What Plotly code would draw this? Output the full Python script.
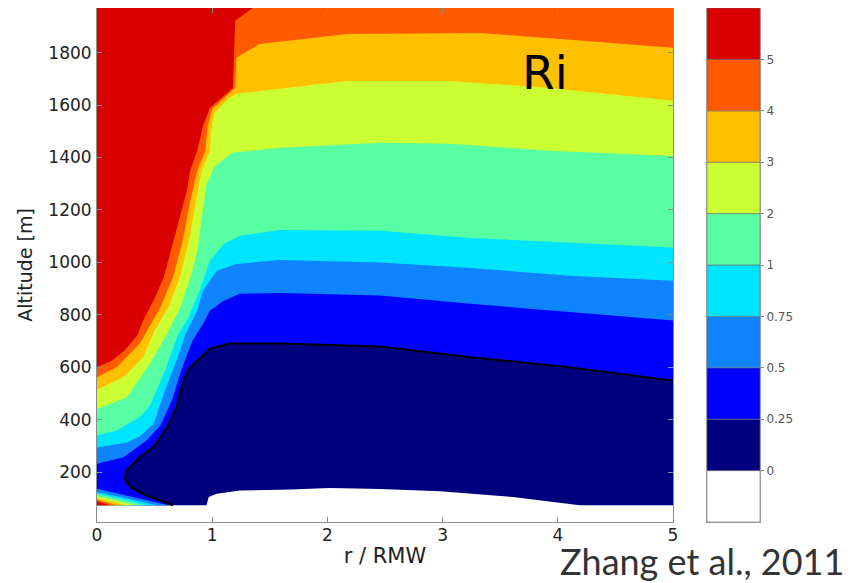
import plotly.graph_objects as go

# ---------------- data ----------------
R_MIN, R_MAX = 0.0, 5.0          # r / RMW
Z_BOT, Z_TOP = 74, 1970          # altitude extent of the model field [m]

levels = [0, 0.25, 0.5, 0.75, 1, 2, 3, 4, 5]
level_labels = ["0", "0.25", "0.5", "0.75", "1", "2", "3", "4", "5"]

# Ri < 0 pocket near the surface (r/RMW, altitude)
neg_r = [0.95, 0.97, 1.04, 1.24, 1.68, 2.02, 2.46, 2.98, 3.61, 4.19]
neg_z = [74, 105, 118, 130, 134, 140, 136, 127, 105, 74]

# Ri = 0.25 contour (bottom-left end of the curve last)
ri025_r = [5.0, 4.10, 3.24, 2.46, 1.59, 1.15, 0.98, 0.81, 0.75, 0.69, 0.61, 0.49,
           0.37, 0.26, 0.24, 0.29, 0.43, 0.66]
ri025_z = [549, 600, 638, 679, 691, 691, 670, 600, 549, 448, 371, 295,
           257, 207, 175, 143, 111, 74]

# upper contours, from r/RMW = 5 to r/RMW = 0
ri05_r = [5.0, 4.10, 3.24, 2.46, 1.59, 1.24, 1.10, 0.98, 0.92, 0.83, 0.73, 0.65, 0.55, 0.43, 0.23, 0.0]
ri05_z = [778, 810, 842, 874, 883, 880, 854, 816, 765, 702, 587, 473, 378, 321, 257, 232]

ri075_r = [5.0, 4.10, 3.24, 2.46, 1.59, 1.21, 1.04, 0.92, 0.87, 0.77, 0.69, 0.59, 0.49, 0.37, 0.26, 0.0]
ri075_z = [930, 949, 979, 1000, 1009, 994, 968, 892, 816, 728, 625, 511, 384, 336, 313, 294]

ri1_r = [5.0, 4.10, 3.24, 2.46, 1.59, 1.24, 1.10, 0.98, 0.89, 0.79, 0.70, 0.59, 0.46, 0.37, 0.17, 0.0]
ri1_z = [1057, 1076, 1093, 1121, 1123, 1102, 1070, 1006, 892, 786, 721, 587, 454, 409, 359, 340]

ri2_r = [5.0, 3.93, 3.06, 2.46, 1.59, 1.17, 1.02, 0.95, 0.91, 0.87, 0.81, 0.72, 0.61, 0.46, 0.26, 0.0]
ri2_z = [1406, 1426, 1452, 1456, 1437, 1418, 1365, 1296, 1168, 1041, 940, 826, 729, 614, 486, 441]

ri3_r = [5.0, 3.93, 3.06, 2.17, 1.21, 1.14, 1.02, 0.99, 0.98, 0.91, 0.87, 0.81, 0.72, 0.62,
         0.50, 0.40, 0.23, 0.0]
ri3_z = [1616, 1665, 1692, 1692, 1643, 1624, 1570, 1501, 1426, 1350, 1261, 1108, 943, 829,
         740, 639, 562, 514]

ri4_r = [5.0, 4.22, 3.32, 2.17, 1.41, 1.21, 1.20, 1.00, 0.96, 0.94, 0.87, 0.81, 0.75, 0.66,
         0.55, 0.46, 0.37, 0.27, 0.17, 0.0]
ri4_z = [1818, 1845, 1875, 1871, 1833, 1780, 1665, 1585, 1520, 1426, 1350, 1235, 1095, 943,
         828, 758, 690, 645, 600, 562]

# Ri = 5 contour, from the top edge down to r/RMW = 0
ri5_r = [1.35, 1.20, 1.19, 1.18, 0.98, 0.92, 0.87, 0.81, 0.78, 0.72, 0.66, 0.58, 0.49,
         0.40, 0.35, 0.24, 0.13, 0.0]
ri5_z = [1970, 1921, 1807, 1665, 1589, 1520, 1426, 1350, 1273, 1171, 1070, 943, 854,
         778, 721, 664, 626, 600]

# thin surface wedge at the centre: where each contour (0.5 ... 5) meets r=0 and the bottom
wedge_z0 = [137, 124, 118, 109, 101, 95, 89]
wedge_r1 = [0.62, 0.52, 0.43, 0.34, 0.26, 0.17, 0.11]

# ---------------- styles ----------------
band_colors = ["#FFFFFF", "#00007F", "#0000FF", "#1084FF", "#00E5FF",
               "#58FFA2", "#CCFF33", "#FFC000", "#FF5A00", "#D90000"]

fig = go.Figure()


def add_region(xs, ys, color):
    fig.add_trace(go.Scatter(x=xs, y=ys, mode="lines", fill="toself",
                             fillcolor=color, line=dict(width=0, color=color),
                             hoverinfo="skip", showlegend=False))


# Ri >= 0 (everything except the negative pocket)
xs = [R_MIN] + neg_r + [R_MAX, R_MAX, R_MIN]
ys = [Z_BOT] + neg_z + [Z_BOT, Z_TOP, Z_TOP]
add_region(xs, ys, band_colors[1])

# Ri >= 0.25
xs = [R_MIN] + ri025_r[::-1] + [R_MAX, R_MIN]
ys = [Z_BOT] + ri025_z[::-1] + [Z_TOP, Z_TOP]
add_region(xs, ys, band_colors[2])

upper = [(ri05_r, ri05_z), (ri075_r, ri075_z), (ri1_r, ri1_z),
         (ri2_r, ri2_z), (ri3_r, ri3_z), (ri4_r, ri4_z)]
for i, (cr, cz) in enumerate(upper):
    xs = list(cr) + [R_MIN, R_MAX, None, R_MIN, wedge_r1[i], R_MIN]
    ys = list(cz) + [Z_TOP, Z_TOP, None, wedge_z0[i], Z_BOT, Z_BOT]
    add_region(xs, ys, band_colors[3 + i])

# Ri >= 5
xs = ri5_r + [R_MIN, None, R_MIN, wedge_r1[6], R_MIN]
ys = ri5_z + [Z_TOP, None, wedge_z0[6], Z_BOT, Z_BOT]
add_region(xs, ys, band_colors[9])

# critical Ri = 0.25 line
fig.add_trace(go.Scatter(x=ri025_r, y=ri025_z, mode="lines",
                         line=dict(color="black", width=2),
                         hoverinfo="skip", showlegend=False))

# ---------------- colour bar (separate small axes) ----------------
n_bands = len(levels) + 1
fig.add_trace(go.Bar(x=[0] * n_bands, y=[1] * n_bands, base=list(range(n_bands)),
                     marker=dict(color=band_colors, line=dict(color="#6a6a6a", width=0.6)),
                     width=1, xaxis="x2", yaxis="y2", hoverinfo="skip", showlegend=False))

tick_font = dict(family="DejaVu Sans", size=17, color="#222222")
axis_common = dict(showline=True, linecolor="#8c8c8c", linewidth=1, mirror="ticks",
                   ticks="inside", ticklen=5, tickcolor="#8c8c8c", automargin=False,
                   showgrid=False, zeroline=False, tickfont=tick_font)

# the page adds an 8 px body margin, so the figure is 8 px smaller than the window
fig.update_layout(
    width=843, height=575,
    margin=dict(l=89, r=91, t=0, b=61, autoexpand=False),
    paper_bgcolor="white", plot_bgcolor="white",
    barmode="overlay", showlegend=False,
    xaxis=dict(domain=[0, 0.8688], range=[R_MIN, R_MAX],
               tickvals=[0, 1, 2, 3, 4, 5], ticklabelstandoff=-2,
               title=dict(text="r / RMW", standoff=3,
                          font=dict(family="DejaVu Sans", size=21, color="#222222")),
               **axis_common),
    yaxis=dict(range=[10, 1970], tickvals=[200, 400, 600, 800, 1000, 1200, 1400, 1600, 1800],
               ticklabelstandoff=1,
               title=dict(text="Altitude [m]", standoff=10,
                          font=dict(family="DejaVu Sans", size=19, color="#222222")),
               **axis_common),
    xaxis2=dict(domain=[0.920, 1.0], range=[-0.5, 0.5], anchor="y2", automargin=False,
                showline=True, mirror=True, linecolor="#9a9a9a",
                showticklabels=False, ticks="", showgrid=False, zeroline=False),
    yaxis2=dict(domain=[0, 1], range=[0, n_bands], anchor="x2", side="right", automargin=False,
                tickvals=list(range(1, n_bands)), ticktext=level_labels,
                ticks="outside", ticklen=3, tickcolor="#8c8c8c",
                showline=True, mirror=True, linecolor="#9a9a9a",
                tickfont=dict(family="DejaVu Sans", size=12, color="#555555"),
                ticklabelstandoff=0, showgrid=False, zeroline=False),
)

fig.add_annotation(x=3.89, y=1723, xref="x", yref="y", text="Ri", showarrow=False,
                   font=dict(family="DejaVu Sans", size=47, color="black"),
                   xanchor="center", yanchor="middle")
fig.add_annotation(x=1.1297, y=-0.076, xref="paper", yref="paper",
                   text="Zhang et al., 2011", showarrow=False,
                   font=dict(family="Lato", size=36, color="#333333"),
                   xanchor="right", yanchor="middle")

fig.write_html("out.html")
